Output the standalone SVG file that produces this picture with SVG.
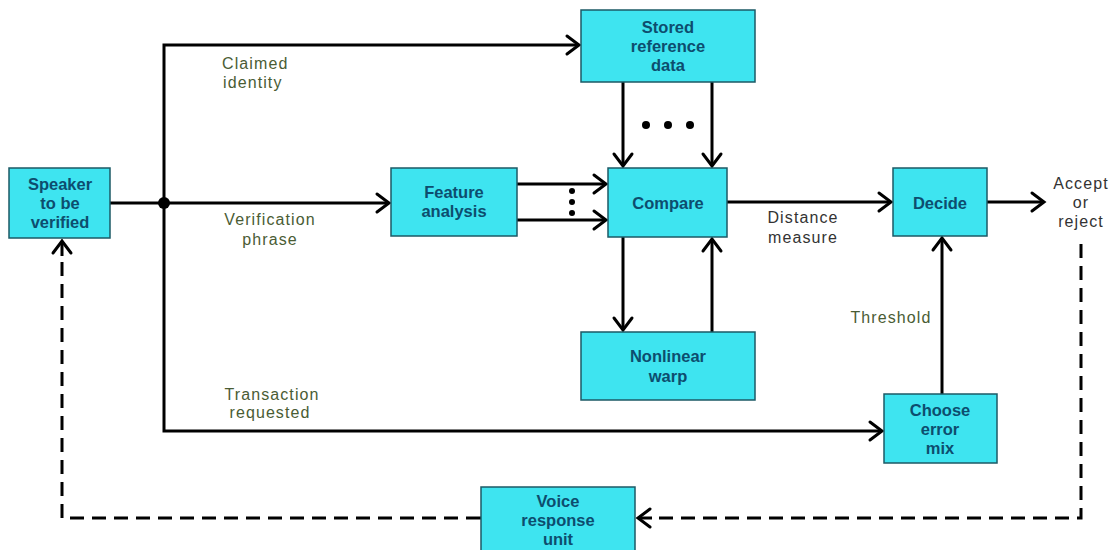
<svg xmlns="http://www.w3.org/2000/svg" width="1117" height="550" viewBox="0 0 1117 550">
  <style>
    .box { fill: #3ee4f0; stroke: #1c5a66; stroke-width: 1.5; }
    .nt { font-family: "Liberation Sans", Arial, sans-serif; font-size: 16.5px; font-weight: bold; fill: #0d4d6e; text-anchor: middle; }
    .lbl { font-family: "Liberation Sans", Arial, sans-serif; font-size: 16px; letter-spacing: 1.1px; fill: #4a5c34; }
    .lbl2 { font-family: "Liberation Sans", Arial, sans-serif; font-size: 16px; letter-spacing: 1.1px; fill: #333333; }
    .ln { fill: none; stroke: #000; stroke-width: 3; }
    .dash { fill: none; stroke: #000; stroke-width: 3; stroke-dasharray: 14 8; }
  </style>
  <defs>
    <!-- open chevron arrowhead, tip at the path end -->
    <marker id="arr" markerUnits="userSpaceOnUse" markerWidth="30" markerHeight="30" refX="0" refY="0" orient="auto" overflow="visible" viewBox="-15 -15 30 30">
      <path d="M-12,-9 L0,0 L-12,9" fill="none" stroke="#000" stroke-width="3" stroke-linecap="round" stroke-linejoin="miter"/>
    </marker>
  </defs>

  <rect width="1117" height="550" fill="#ffffff"/>

  <!-- connectors -->
  <g id="connectors">
    <!-- speaker to junction to feature analysis -->
    <path class="ln" d="M110,203 H389" marker-end="url(#arr)"/>
    <circle cx="164" cy="203" r="6" fill="#000"/>
    <!-- trunk up to stored reference data -->
    <path class="ln" d="M164,203 V45 H579" marker-end="url(#arr)"/>
    <!-- trunk down to choose error mix -->
    <path class="ln" d="M164,203 V431 H882" marker-end="url(#arr)"/>
    <!-- feature analysis to compare -->
    <path class="ln" d="M517,184 H606" marker-end="url(#arr)"/>
    <path class="ln" d="M517,220 H606" marker-end="url(#arr)"/>
    <circle cx="572" cy="191" r="3" fill="#000"/>
    <circle cx="572" cy="202" r="3" fill="#000"/>
    <circle cx="572" cy="213" r="3" fill="#000"/>
    <!-- stored reference data to compare -->
    <path class="ln" d="M623,82 V166" marker-end="url(#arr)"/>
    <path class="ln" d="M712,82 V166" marker-end="url(#arr)"/>
    <circle cx="646" cy="125" r="4" fill="#000"/>
    <circle cx="668" cy="125" r="4" fill="#000"/>
    <circle cx="690" cy="125" r="4" fill="#000"/>
    <!-- compare and nonlinear warp -->
    <path class="ln" d="M623,237 V330" marker-end="url(#arr)"/>
    <path class="ln" d="M712,332 V239" marker-end="url(#arr)"/>
    <!-- compare to decide -->
    <path class="ln" d="M727,202 H891" marker-end="url(#arr)"/>
    <!-- decide output -->
    <path class="ln" d="M987,202 H1044" marker-end="url(#arr)"/>
    <!-- threshold -->
    <path class="ln" d="M942,394 V238" marker-end="url(#arr)"/>
    <!-- feedback loop (dashed) -->
    <path class="dash" d="M1081,244 V518 H652"/>
    <path class="ln" d="M652,518 H638" marker-end="url(#arr)"/>
    <path class="ln" d="M481,518 H466"/>
    <path class="dash" d="M458,518 H62 V262"/>
    <path class="ln" d="M62,256 V241" marker-end="url(#arr)"/>
  </g>

  <!-- nodes -->
  <g id="speaker">
    <rect class="box" x="9" y="168" width="101" height="70"/>
    <text class="nt" x="60" y="190">Speaker</text>
    <text class="nt" x="60" y="209">to be</text>
    <text class="nt" x="60" y="228">verified</text>
  </g>
  <g id="stored">
    <rect class="box" x="581" y="10" width="174" height="72"/>
    <text class="nt" x="668" y="33">Stored</text>
    <text class="nt" x="668" y="52">reference</text>
    <text class="nt" x="668" y="71">data</text>
  </g>
  <g id="feature">
    <rect class="box" x="391" y="168" width="126" height="68"/>
    <text class="nt" x="454" y="198">Feature</text>
    <text class="nt" x="454" y="217">analysis</text>
  </g>
  <g id="compare">
    <rect class="box" x="608" y="168" width="119" height="69"/>
    <text class="nt" x="668" y="209">Compare</text>
  </g>
  <g id="decide">
    <rect class="box" x="893" y="168" width="94" height="68"/>
    <text class="nt" x="940" y="209">Decide</text>
  </g>
  <g id="warp">
    <rect class="box" x="581" y="332" width="174" height="68"/>
    <text class="nt" x="668" y="362">Nonlinear</text>
    <text class="nt" x="668" y="382">warp</text>
  </g>
  <g id="choose">
    <rect class="box" x="884" y="394" width="113" height="69"/>
    <text class="nt" x="940" y="416">Choose</text>
    <text class="nt" x="940" y="435">error</text>
    <text class="nt" x="940" y="454">mix</text>
  </g>
  <g id="voice">
    <rect class="box" x="481" y="487" width="154" height="70"/>
    <text class="nt" x="558" y="507">Voice</text>
    <text class="nt" x="558" y="526">response</text>
    <text class="nt" x="558" y="545">unit</text>
  </g>

  <!-- labels -->
  <g id="labels">
    <text class="lbl" x="222" y="69">Claimed</text>
    <text class="lbl" x="223" y="88">identity</text>
    <text class="lbl" x="270" y="225" text-anchor="middle">Verification</text>
    <text class="lbl" x="270" y="245" text-anchor="middle">phrase</text>
    <text class="lbl2" x="803" y="223" text-anchor="middle">Distance</text>
    <text class="lbl2" x="803" y="243" text-anchor="middle">measure</text>
    <text class="lbl2" x="1081" y="189" text-anchor="middle">Accept</text>
    <text class="lbl2" x="1081" y="208" text-anchor="middle">or</text>
    <text class="lbl2" x="1081" y="227" text-anchor="middle">reject</text>
    <text class="lbl" x="891" y="323" text-anchor="middle">Threshold</text>
    <text class="lbl" x="272" y="400" text-anchor="middle">Transaction</text>
    <text class="lbl" x="270" y="418" text-anchor="middle">requested</text>
  </g>
</svg>
